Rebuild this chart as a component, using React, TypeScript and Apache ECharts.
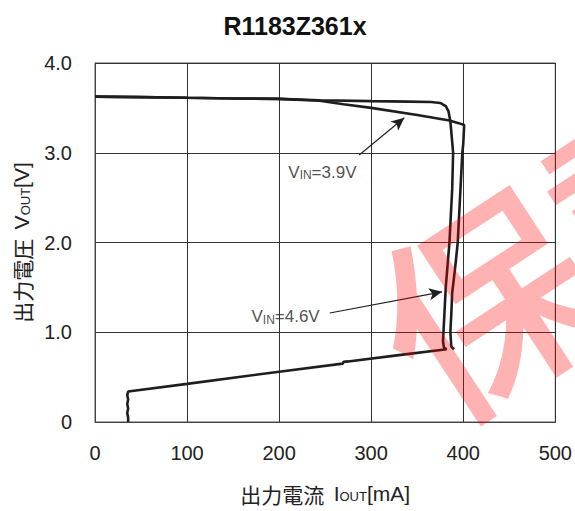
import React, { useEffect, useRef } from "react";
import * as echarts from "echarts";

const TITLE = "R1183Z361x";
const X_TICKS = [0, 100, 200, 300, 400, 500];
const Y_TICKS = [0, 1, 2, 3, 4];

// VIN = 4.6V : regulated until current limit, then vertical drop
const VIN46: [number, number][] = [
  [0, 3.625], [50, 3.62], [100, 3.612], [150, 3.605], [200, 3.6], [244, 3.585],
  [300, 3.575], [340, 3.57], [365, 3.565], [375, 3.555], [381, 3.52], [384, 3.46],
  [386, 3.35], [388, 3.12], [389, 3.0], [388, 2.6], [386, 2.2], [385, 2.0],
  [383, 1.75], [381, 1.5], [380, 1.3], [379, 1.1], [378, 0.9], [379, 0.83], [382, 0.81],
];
// VIN = 3.9V : dropout slope, then vertical drop
const VIN39: [number, number][] = [
  [0, 3.625], [50, 3.62], [100, 3.612], [150, 3.605], [200, 3.6], [244, 3.58],
  [270, 3.54], [300, 3.5], [350, 3.42], [385, 3.36], [395, 3.33], [401, 3.31],
  [400, 3.1], [399, 3.0], [397, 2.6], [395, 2.2], [394, 2.0], [391, 1.7],
  [388, 1.44], [387, 1.2], [386, 1.0], [387, 0.84], [390, 0.81],
];
// shared foldback section down to short-circuit
const FOLDBACK: [number, number][] = [
  [382, 0.81], [330, 0.745], [275, 0.675], [270, 0.67], [269, 0.65], [200, 0.56],
  [100, 0.425], [36, 0.34], [35, 0.3], [36, 0.25], [35, 0.2], [36, 0.15],
  [35, 0.1], [36, 0.05], [36, 0],
];

const LABEL_39_POS: [number, number] = [247, 2.78];
const ARROW_39: [[number, number], [number, number]] = [[287, 2.975], [336, 3.39]];
const LABEL_46_POS: [number, number] = [207, 1.17];
const ARROW_46: [[number, number], [number, number]] = [[255, 1.215], [377, 1.45]];

const FONT = "'Liberation Sans', Arial, 'Noto Sans CJK JP', sans-serif";
const CJK = "'Noto Sans CJK JP', 'Liberation Sans', sans-serif";
const LINE = "#1e1e1e";

export default function App() {
  const ref = useRef<HTMLDivElement>(null);
  useEffect(() => {
    if (!ref.current) return;
    document.body.style.margin = "0";
    const chart = echarts.init(ref.current, null, { renderer: "svg" });
    const rich = {
      a: { fontSize: 17, fontFamily: FONT, color: "#222" },
      s: { fontSize: 12, fontFamily: FONT, color: "#222", padding: [6, 0, 0, 0] },
    };
    const nameRich = {
      a: { fontSize: 21, fontFamily: FONT, color: "#222" },
      s: { fontSize: 13, fontFamily: FONT, color: "#222", padding: [7, 0, 0, 0] },
    };
    const curve = (name: string, data: [number, number][]) => ({
      type: "line",
      name,
      data,
      showSymbol: false,
      symbol: "none",
      lineStyle: { color: LINE, width: 2.6 },
      silent: true,
      z: 3,
    });
    chart.setOption({
      animation: false,
      title: {
        text: TITLE,
        left: 290,
        top: 8,
        textAlign: "center",
        textStyle: { fontFamily: FONT, fontSize: 25, fontWeight: "bold", color: "#111" },
      },
      grid: {
        left: 95, right: 19, top: 63, bottom: 89,
        show: true, borderColor: "#555", borderWidth: 1,
      },
      xAxis: {
        type: "value", min: 0, max: 500, interval: 100,
        axisLine: { show: true, lineStyle: { color: "#444", width: 1 } },
        axisTick: { show: false },
        axisLabel: { margin: 21, fontSize: 20, fontFamily: FONT, color: "#222",
          formatter: (v: number) => (X_TICKS.includes(v) ? String(v) : "") },
        splitLine: { show: true, lineStyle: { color: "#333", width: 1 } },
        name: "出力電流  {a|I}{s|OUT}{a|[mA]}",
        nameLocation: "middle",
        nameGap: 61,
        nameTextStyle: { fontFamily: CJK, fontSize: 21, color: "#222", rich: nameRich },
      },
      yAxis: {
        type: "value", min: 0, max: 4, interval: 1,
        axisLine: { show: true, lineStyle: { color: "#444", width: 1 } },
        axisTick: { show: false },
        axisLabel: { margin: 23, fontSize: 20, fontFamily: FONT, color: "#222",
          formatter: (v: number) => (Y_TICKS.includes(v) ? (v === 0 ? "0" : v.toFixed(1)) : "") },
        splitLine: { show: true, lineStyle: { color: "#333", width: 1 } },
        name: "出力電圧  {a|V}{s|OUT}{a|[V]}",
        nameLocation: "middle",
        nameGap: 63,
        nameTextStyle: { fontFamily: CJK, fontSize: 21, color: "#222", rich: nameRich },
      },
      series: [
        curve("VIN=4.6V", VIN46),
        curve("VIN=3.9V", VIN39),
        curve("foldback", FOLDBACK),
        {
          type: "scatter",
          data: [LABEL_39_POS, LABEL_46_POS],
          symbolSize: 0,
          silent: true,
          label: {
            show: true,
            position: "inside",
            formatter: (p: any) =>
              p.dataIndex === 0 ? "{a|V}{s|IN}{a|=3.9V}" : "{a|V}{s|IN}{a|=4.6V}",
            rich,
          },
          markLine: {
            silent: true,
            symbol: ["none", "arrow"],
            symbolSize: [9, 13],
            label: { show: false },
            lineStyle: { color: LINE, width: 1.1, type: "solid" },
            data: [
              [{ coord: ARROW_39[0] }, { coord: ARROW_39[1] }],
              [{ coord: ARROW_46[0] }, { coord: ARROW_46[1] }],
            ],
          },
        },
      ],
      graphic: [
        {
          type: "text",
          x: 480,
          y: 296,
          rotation: 0.58,
          z: 100,
          silent: true,
          style: {
            text: "保証",
            x: -106,
            y: 0,
            textAlign: "left",
            textVerticalAlign: "middle",
            fontSize: 212,
            fontWeight: 500,
            fontFamily: CJK,
            fill: "rgba(255,0,0,0.3)",
          },
        },
      ],
    });
    return () => chart.dispose();
  }, []);
  return <div ref={ref} style={{ width: 575, height: 511 }} />;
}
